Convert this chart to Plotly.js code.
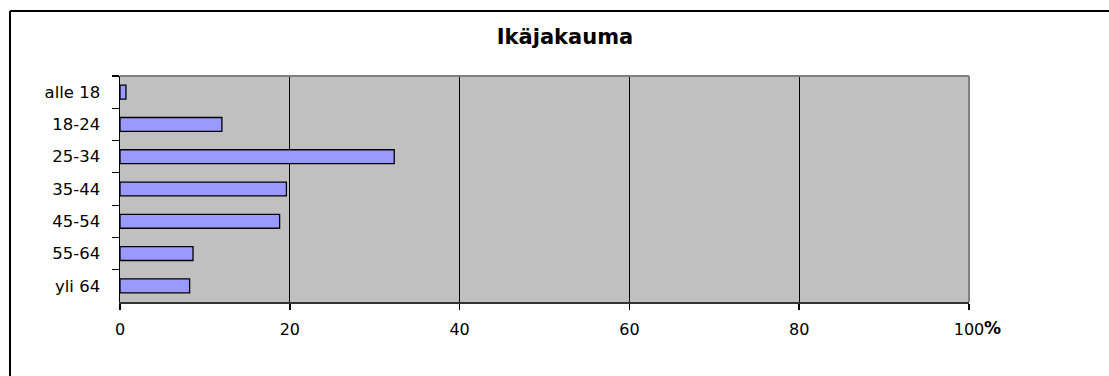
<!DOCTYPE html>
<html>
<head>
<meta charset="utf-8">
<script src="https://cdn.plot.ly/plotly-3.0.1.min.js"></script>
<style>
  html, body { margin: 0; padding: 0; background: #ffffff; overflow: hidden; }
  #chart { width: 1109px; height: 376px; }
</style>
</head>
<body>
<div id="chart"></div>
<script>
// Data
const chartTitle = "Ikäjakauma";
const categories = ["alle 18", "18-24", "25-34", "35-44", "45-54", "55-64", "yli 64"];
const values = [0.7, 12.0, 32.3, 19.6, 18.8, 8.6, 8.2];
const xTickVals = [0, 20, 40, 60, 80, 100];
const xTickText = ["0", "20", "40", "60", "80", "100"];
const unitLabel = "%";

// Layout geometry (pixels)
const W = 1109, H = 376;
const M = { l: 120, r: 140, t: 76, b: 74 };
const pw = W - M.l - M.r, ph = H - M.t - M.b;
const px2x = (px) => (px - M.l) / pw;
const py2y = (py) => 1 - (py - M.t) / ph;

const FONT = "DejaVu Sans, Liberation Sans, Arial, sans-serif";

const trace = {
  type: "bar",
  orientation: "h",
  y: categories,
  x: values,
  marker: { color: "#9999FF", line: { color: "#000000", width: 1.3 } },
  hoverinfo: "x+y"
};

const layout = {
  width: W, height: H,
  margin: M,
  paper_bgcolor: "#ffffff",
  plot_bgcolor: "#C0C0C0",
  showlegend: false,
  bargap: 0.57,
  font: { family: FONT, size: 16, color: "#000000" },
  title: {
    text: "<b>" + chartTitle + "</b>",
    font: { family: FONT, size: 21, color: "#000000" },
    x: 565 / W, xref: "container", xanchor: "center",
    y: 1 - 37 / H, yref: "container", yanchor: "middle"
  },
  xaxis: {
    range: [0, 100],
    tickvals: xTickVals,
    ticktext: xTickText,
    ticks: "outside", ticklen: 6, tickwidth: 1.5, tickcolor: "#000000",
    showgrid: true, gridcolor: "#000000", gridwidth: 1.2,
    showline: true, linecolor: "#333333", linewidth: 2,
    zeroline: false,
    tickfont: { family: FONT, size: 16, color: "#000000" },
    ticklabelstandoff: 6,
    fixedrange: true
  },
  yaxis: {
    type: "category",
    autorange: "reversed",
    ticks: "outside", ticklen: 7, tickwidth: 1.2, tickcolor: "#000000",
    tickson: "boundaries",
    showgrid: false,
    showline: true, linecolor: "#000000", linewidth: 1.5,
    zeroline: false,
    tickfont: { family: FONT, size: 16.5, color: "#000000" },
    ticklabelstandoff: 15,
    fixedrange: true
  },
  annotations: [{
    text: "<b>" + unitLabel + "</b>",
    xref: "x", yref: "paper",
    x: 100, y: 0,
    xanchor: "left", yanchor: "top",
    xshift: 13, yshift: -14,
    showarrow: false,
    font: { family: FONT, size: 17, color: "#000000" }
  }],
  shapes: [
    // plot area border (top and right)
    { type: "line", xref: "paper", yref: "paper", x0: 0, x1: 1, y0: 1, y1: 1,
      line: { color: "#808080", width: 2 }, layer: "above" },
    { type: "line", xref: "paper", yref: "paper", x0: 1, x1: 1, y0: 0, y1: 1,
      line: { color: "#808080", width: 2 }, layer: "above" },
    // chart area border (left and top edges; right and bottom lie outside the picture)
    { type: "line", xref: "paper", yref: "paper",
      x0: px2x(10), x1: px2x(10), y0: py2y(H), y1: py2y(11),
      line: { color: "#000000", width: 2 }, layer: "above" },
    { type: "line", xref: "paper", yref: "paper",
      x0: px2x(10), x1: px2x(W), y0: py2y(11), y1: py2y(11),
      line: { color: "#000000", width: 2 }, layer: "above" }
  ]
};

Plotly.newPlot("chart", [trace], layout, { displayModeBar: false, staticPlot: true });
</script>
</body>
</html>
